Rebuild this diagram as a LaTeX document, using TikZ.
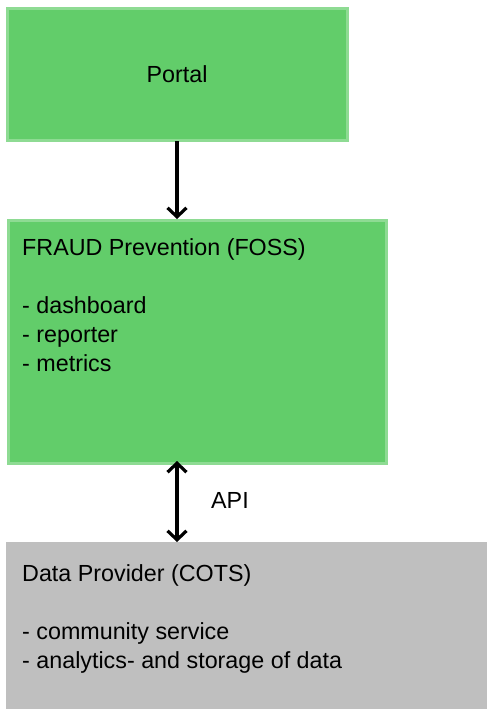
\documentclass[tikz,border=0pt]{standalone}
\usepackage{fontspec}
\setmainfont{Liberation Sans}
\usetikzlibrary{arrows.meta}
\definecolor{boxgreen}{HTML}{62CD6A}
\definecolor{edgegreen}{HTML}{8EDB93}
\definecolor{boxgray}{HTML}{BFBFBF}
\begin{document}
\begin{tikzpicture}[x=1pt,y=-1pt,
  greenbox/.style={draw=edgegreen,fill=boxgreen,line width=3pt,inner sep=0pt},
  graybox/.style={fill=boxgray,draw=none,inner sep=0pt},
  lbl/.style={font=\fontsize{23.3}{29}\selectfont,inner sep=0pt,align=left},
  conn/.style={line width=3.2pt,-{Straight Barb[length=9pt,width=19pt,line width=3.2pt]}},
  conn2/.style={line width=3.2pt,{Straight Barb[length=9pt,width=19pt,line width=3.2pt]}-{Straight Barb[length=9pt,width=19pt,line width=3.2pt]}}]
\useasboundingbox (0,0) rectangle (497,726);
\fill[white] (0,0) rectangle (497,726);
\node[greenbox,minimum width=340pt,minimum height=132pt] (portal) at (177.5,74) {};
\node[greenbox,minimum width=378pt,minimum height=243pt] (fraud) at (197.5,342) {};
\node[graybox,minimum width=481pt,minimum height=167pt] (data) at (246.5,625.5) {};
\node[lbl,anchor=base] (portaltxt) at (177,82) {Portal};
\node[lbl,anchor=north west] (fraudtxt) at (22,238.5) {FRAUD Prevention (FOSS)\\ \\- dashboard\\- reporter\\- metrics};
\node[lbl,anchor=north west] (datatxt) at (22,564.5) {Data Provider (COTS)\\ \\- community service\\- analytics- and storage of data};
\coordinate (p1) at (177,141);
\coordinate (p2) at (177,219);
\coordinate (q1) at (177,461);
\coordinate (q2) at (177,542);
\draw[conn] (p1) -- (p2);
\draw[conn2] (q1) -- (q2);
\node[lbl,anchor=base west] (api) at (211,508) {API};
\end{tikzpicture}
\end{document}
